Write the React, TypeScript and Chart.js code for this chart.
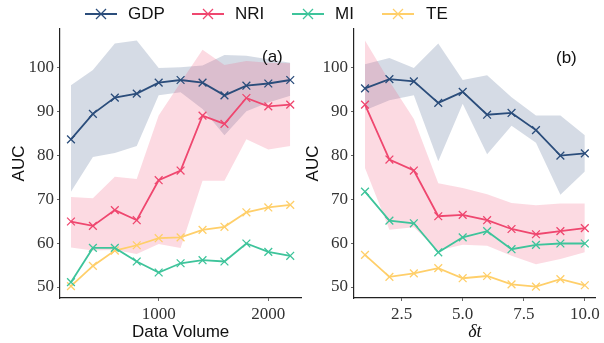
import React, { useEffect, useRef } from "react";
import { Chart, registerables } from "chart.js";

Chart.register(...registerables);

// ---------- data ----------
const volumeX = [200, 400, 600, 800, 1000, 1200, 1400, 1600, 1800, 2000, 2200];
const deltaX = [1, 2, 3, 4, 5, 6, 7, 8, 9, 10];

const gdpA = [83.6, 89.4, 93.1, 94.0, 96.5, 97.1, 96.5, 93.6, 95.8, 96.3, 97.1];
const gdpAUpper = [95.9, 99.4, 105.4, 106.1, 99.8, 100.0, 100.4, 102.8, 102.6, 101.8, 101.0];
const gdpALower = [71.7, 79.6, 80.5, 82.1, 93.6, 94.3, 90.5, 84.5, 90.0, 92.0, 93.5];
const nriA = [64.9, 63.9, 67.5, 65.2, 74.3, 76.5, 89.0, 87.1, 93.0, 91.1, 91.5];
const nriAUpper = [70.5, 70.2, 75.1, 74.6, 89.0, 96.5, 104.0, 100.5, 101.4, 101.0, 100.9];
const nriALower = [59.0, 58.3, 58.4, 57.5, 59.8, 58.9, 74.2, 74.2, 83.6, 81.3, 82.1];
const miA = [51.1, 58.9, 58.9, 55.8, 53.3, 55.4, 56.1, 55.8, 59.9, 58.0, 57.1];
const teA = [50.2, 54.8, 58.3, 59.5, 61.1, 61.3, 63.0, 63.7, 67.0, 68.1, 68.7];

const gdpB = [95.2, 97.3, 96.8, 91.9, 94.4, 89.2, 89.6, 85.7, 79.9, 80.4];
const gdpBUpper = [100.7, 102.1, 99.8, 105.4, 97.1, 98.2, 93.2, 89.0, 89.0, 84.5];
const gdpBLower = [90.2, 92.5, 93.6, 78.6, 91.7, 80.2, 86.7, 82.8, 71.0, 76.3];
const nriB = [91.5, 79.0, 76.5, 66.1, 66.4, 65.2, 63.2, 62.0, 62.7, 63.4];
const nriBUpper = [106.1, 96.8, 88.2, 73.6, 72.5, 71.1, 69.1, 68.6, 69.0, 69.0];
const nriBLower = [77.1, 63.0, 63.6, 58.3, 59.6, 59.4, 57.1, 55.2, 56.4, 57.9];
const miB = [71.7, 65.1, 64.5, 57.9, 61.3, 62.7, 58.6, 59.6, 59.9, 59.9];
const teB = [57.3, 52.3, 53.1, 54.3, 52.0, 52.5, 50.6, 50.1, 51.8, 50.4];

const yTicks = [50, 60, 70, 80, 90, 100];
const volumeTicks = [1000, 2000];
const deltaTicks = [2.5, 5.0, 7.5, 10.0];

const seriesNames = ["GDP", "NRI", "MI", "TE"];
const seriesColors = ["#2b4d7b", "#ef476f", "#3ec49b", "#ffcf6a"];
const bandColors = ["rgba(43,77,123,0.2)", "rgba(239,71,111,0.2)"];

// ---------- helpers ----------
const pts = (xs: number[], ys: number[]) => xs.map((x, i) => ({ x, y: ys[i] }));

function lineDs(label: string, xs: number[], ys: number[], color: string) {
  return {
    label,
    data: pts(xs, ys),
    borderColor: color,
    backgroundColor: color,
    borderWidth: 1.8,
    pointStyle: "crossRot",
    pointRadius: 5.5,
    pointBorderWidth: 1.3,
    pointBorderColor: color,
    fill: false,
    tension: 0,
  };
}
function bandDs(xs: number[], ys: number[], color: string, fillTarget: any) {
  return {
    label: "_band",
    data: pts(xs, ys),
    borderWidth: 0,
    borderColor: "rgba(0,0,0,0)",
    backgroundColor: color,
    pointRadius: 0,
    fill: fillTarget,
    tension: 0,
  };
}

const serif = "'Liberation Serif', 'DejaVu Serif', serif";
const sans = "'Liberation Sans', Arial, sans-serif";

function makeConfig(
  xs: number[],
  gdp: number[], gdpU: number[], gdpL: number[],
  nri: number[], nriU: number[], nriL: number[],
  mi: number[], te: number[],
  xMin: number, xMax: number, xTicks: number[], xFmt: (v: number) => string,
  xTitle: string, xTitleItalic: boolean, yWidth: number, yTitlePad: number
): any {
  const datasets: any[] = [
    lineDs(seriesNames[0], xs, gdp, seriesColors[0]),
    lineDs(seriesNames[1], xs, nri, seriesColors[1]),
    lineDs(seriesNames[2], xs, mi, seriesColors[2]),
    lineDs(seriesNames[3], xs, te, seriesColors[3]),
    bandDs(xs, nriU, bandColors[1], "+1"),
    bandDs(xs, nriL, bandColors[1], false),
    bandDs(xs, gdpU, bandColors[0], "+1"),
    bandDs(xs, gdpL, bandColors[0], false),
  ];
  const axisColor = "#222";
  return {
    type: "line",
    data: { datasets },
    options: {
      animation: false,
      responsive: false,
      maintainAspectRatio: false,
      layout: { padding: { top: 29, right: 3, bottom: 0, left: 0 } },
      plugins: { legend: { display: false }, tooltip: { enabled: false } },
      scales: {
        x: {
          type: "linear",
          min: xMin,
          max: xMax,
          afterBuildTicks: (s: any) => { s.ticks = xTicks.map((v) => ({ value: v })); },
          afterFit: (s: any) => { s.height = 45; },
          border: { display: true, color: axisColor, width: 1.2 },
          grid: { drawOnChartArea: false, drawTicks: true, tickLength: 3, color: "#666" },
          ticks: {
            padding: 3,
            color: "#333",
            font: { family: serif, size: 17 },
            callback: (v: any) => xFmt(Number(v)),
            maxRotation: 0,
            autoSkip: false,
          },
          title: {
            display: true,
            text: xTitle,
            color: "#111",
            padding: { top: 0, bottom: 0 },
            font: xTitleItalic
              ? { family: serif, size: 18, style: "italic" }
              : { family: sans, size: 17 },
          },
        },
        y: {
          type: "linear",
          min: 47.5,
          max: 108.7,
          afterBuildTicks: (s: any) => { s.ticks = yTicks.map((v) => ({ value: v })); },
          afterFit: (s: any) => { s.width = yWidth; },
          border: { display: true, color: axisColor, width: 1.2 },
          grid: { drawOnChartArea: false, drawTicks: true, tickLength: 3, color: "#666" },
          ticks: {
            padding: 3,
            color: "#333",
            font: { family: serif, size: 17 },
            callback: (v: any) => String(v),
          },
          title: {
            display: true,
            text: "AUC",
            color: "#111",
            padding: { top: yTitlePad, bottom: 0 },
            font: { family: sans, size: 17 },
          },
        },
      },
    },
  };
}

function Panel(props: { config: any; left: number; width: number }) {
  const ref = useRef<HTMLCanvasElement | null>(null);
  useEffect(() => {
    if (!ref.current) return;
    const chart = new Chart(ref.current, props.config);
    return () => chart.destroy();
  }, []);
  return (
    <canvas
      ref={ref}
      width={props.width}
      height={343}
      style={{ position: "absolute", left: props.left, top: 0, width: props.width, height: 343 }}
    />
  );
}

function LegendItem(props: { name: string; color: string; lineX: number; textX: number }) {
  return (
    <>
      <svg
        width={34}
        height={14}
        style={{ position: "absolute", left: props.lineX, top: 7 }}
      >
        <line x1={0} y1={7} x2={32} y2={7} stroke={props.color} strokeWidth={2} />
        <line x1={11} y1={2} x2={21} y2={12} stroke={props.color} strokeWidth={1.3} />
        <line x1={21} y1={2} x2={11} y2={12} stroke={props.color} strokeWidth={1.3} />
      </svg>
      <div
        style={{
          position: "absolute",
          left: props.textX,
          top: 3,
          fontFamily: sans,
          fontSize: 17,
          lineHeight: "22px",
          color: "#111",
          whiteSpace: "nowrap",
        }}
      >
        {props.name}
      </div>
    </>
  );
}

const legendLineX = [85, 192, 292, 382];
const legendTextX = [128, 235, 335, 426];

export default function App() {
  const configA = makeConfig(
    volumeX, gdpA, gdpAUpper, gdpALower, nriA, nriAUpper, nriALower, miA, teA,
    100, 2300, volumeTicks, (v) => String(v), "Data Volume", false, 60, 9
  );
  const configB = makeConfig(
    deltaX, gdpB, gdpBUpper, gdpBLower, nriB, nriBUpper, nriBLower, miB, teB,
    0.55, 10.45, deltaTicks, (v) => v.toFixed(1), "δt", true, 56, 5
  );
  return (
    <div style={{ position: "fixed", left: 0, top: 0, width: 604, height: 343, background: "#fff", overflow: "hidden" }}>
      <Panel config={configA} left={0} width={308} />
      <Panel config={configB} left={298} width={305} />
      {seriesNames.map((n, i) => (
        <LegendItem key={n} name={n} color={seriesColors[i]} lineX={legendLineX[i]} textX={legendTextX[i]} />
      ))}
      <div style={{ position: "absolute", left: 262, top: 46, fontFamily: sans, fontSize: 17, lineHeight: "22px", color: "#111" }}>(a)</div>
      <div style={{ position: "absolute", left: 556, top: 47, fontFamily: sans, fontSize: 17, lineHeight: "22px", color: "#111" }}>(b)</div>
    </div>
  );
}
